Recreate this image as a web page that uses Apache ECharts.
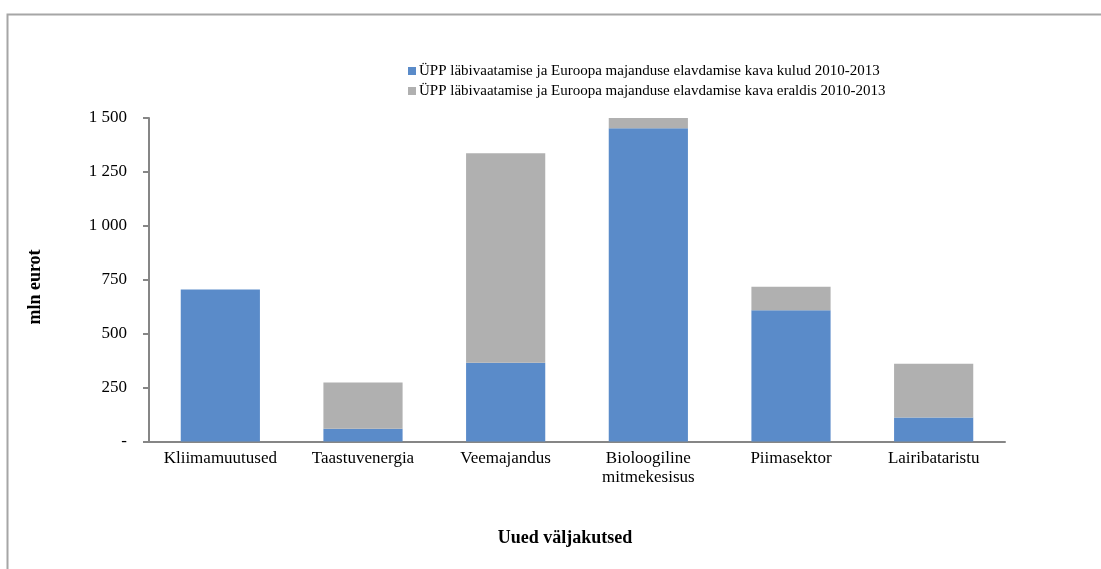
<!DOCTYPE html>
<html>
<head>
<meta charset="utf-8">
<script src="https://cdn.jsdelivr.net/npm/echarts@6/dist/echarts.min.js"></script>
<style>html,body{margin:0;padding:0;background:#fff}#c{width:1101px;height:569px}</style>
</head>
<body>
<div id="c"></div>
<script>
const categories = ['Kliimamuutused', 'Taastuvenergia', 'Veemajandus', 'Bioloogiline\nmitmekesisus', 'Piimasektor', 'Lairibataristu'];
const seriesNames = ['ÜPP läbivaatamise ja Euroopa majanduse elavdamise kava kulud 2010-2013', 'ÜPP läbivaatamise ja Euroopa majanduse elavdamise kava eraldis 2010-2013'];
const kulud = [705, 59, 365, 1452, 608, 111];
const eraldis = [0, 215, 971, 48, 109, 250];
const yTicks = [0, 250, 500, 750, 1000, 1250, 1500];
const yTitle = 'mln eurot';
const xTitle = 'Uued väljakutsed';

const FONT = '"Liberation Serif", "Times New Roman", serif';
const chart = echarts.init(document.getElementById('c'));
function fmt(v) {
  if (v === 0) return '-';
  return String(v).replace(/\B(?=(\d{3})+(?!\d))/g, ' ');
}
chart.setOption({
  animation: false,
  textStyle: { fontFamily: FONT, color: '#000' },
  graphic: [{
    type: 'rect', shape: { x: 7.5, y: 14.5, width: 1200, height: 700 },
    style: { fill: 'none', stroke: '#a6a6a6', lineWidth: 2 }, silent: true
  }, {
    type: 'text', x: 35, y: 287, rotation: Math.PI / 2, silent: true,
    style: { text: yTitle, font: 'bold 18px ' + FONT, fill: '#000', align: 'center', verticalAlign: 'middle' }
  }, {
    type: 'text', x: 565, y: 538, silent: true,
    style: { text: xTitle, font: 'bold 18px ' + FONT, fill: '#000', align: 'center', verticalAlign: 'middle' }
  }],
  legend: {
    orient: 'vertical', left: 403, top: 58,
    itemWidth: 8, itemHeight: 8, itemGap: 4,
    icon: 'rect',
    textStyle: { fontFamily: FONT, fontSize: 15, color: '#000', lineHeight: 16, padding: [0, 0, 0, -2] },
    data: seriesNames
  },
  grid: { left: 149, right: 96, top: 118, bottom: 127.5 },
  xAxis: {
    type: 'category', data: categories,
    axisLine: { lineStyle: { color: '#868686', width: 2 } },
    axisTick: { show: false },
    axisLabel: { fontFamily: FONT, fontSize: 17, color: '#000', margin: 8, lineHeight: 19, interval: 0 }
  },
  yAxis: {
    type: 'value', min: yTicks[0], max: yTicks[yTicks.length - 1], interval: 250,
    axisLine: { show: true, lineStyle: { color: '#868686', width: 2 } },
    axisTick: { show: true, length: 6, lineStyle: { color: '#868686', width: 2 } },
    splitLine: { show: false },
    axisLabel: { fontFamily: FONT, fontSize: 17, color: '#000', margin: 22, formatter: fmt }
  },
  series: [
    { name: seriesNames[0], type: 'bar', stack: 's', data: kulud, barWidth: '55.5%',
      itemStyle: { color: '#5a8bc9' } },
    { name: seriesNames[1], type: 'bar', stack: 's', data: eraldis, barWidth: '55.5%',
      itemStyle: { color: '#b0b0b0' } }
  ]
});
</script>
</body>
</html>
